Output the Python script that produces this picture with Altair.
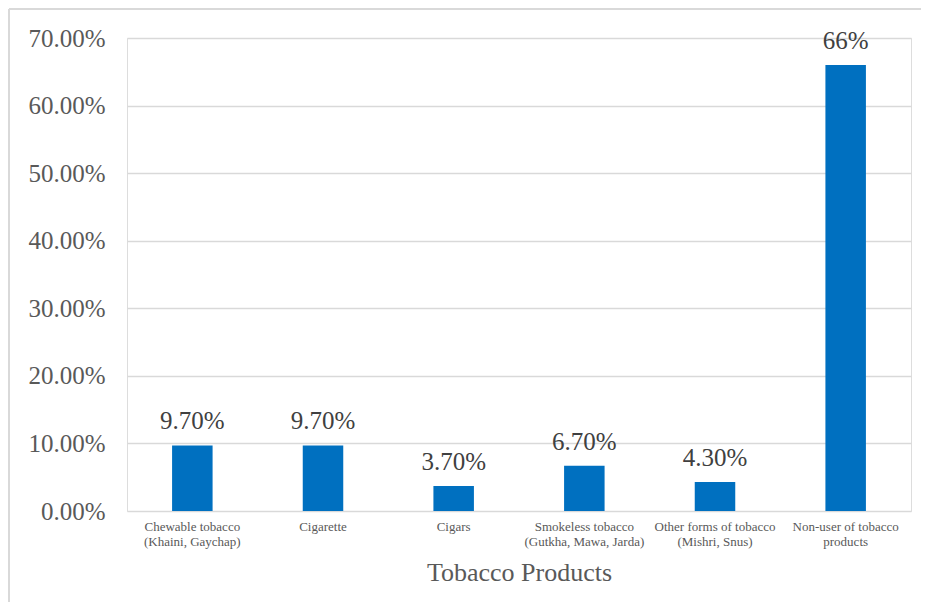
import altair as alt
import pandas as pd

categories = [
    "Chewable tobacco\n(Khaini, Gaychap)",
    "Cigarette",
    "Cigars",
    "Smokeless tobacco\n(Gutkha, Mawa, Jarda)",
    "Other forms of tobacco\n(Mishri, Snus)",
    "Non-user of tobacco\nproducts",
]
values = [0.097, 0.097, 0.037, 0.067, 0.043, 0.66]
labels = ["9.70%", "9.70%", "3.70%", "6.70%", "4.30%", "66%"]

df = pd.DataFrame({"cat": categories, "val": values, "lab": labels})

FONT = "Liberation Serif"

x = alt.X(
    "cat:N",
    sort=categories,
    title="Tobacco Products",
    scale=alt.Scale(paddingInner=0.69, paddingOuter=0.345),
    axis=alt.Axis(
        labelAngle=0,
        labelExpr="split(datum.label, '\\n')",
        labelFont=FONT,
        labelFontSize=13,
        labelLineHeight=15,
        labelColor="#595959",
        labelPadding=9,
        ticks=False,
        domain=False,
        titleFont=FONT,
        titleFontSize=26,
        titleFontWeight="normal",
        titleColor="#595959",
        titlePadding=11,
    ),
)
y = alt.Y(
    "val:Q",
    title=None,
    scale=alt.Scale(domain=[0, 0.7]),
    axis=alt.Axis(
        values=[0, 0.1, 0.2, 0.3, 0.4, 0.5, 0.6, 0.7],
        format=".2%",
        labelFont=FONT,
        labelFontSize=25,
        labelColor="#595959",
        labelPadding=22,
        ticks=False,
        domain=False,
        gridColor="#D9D9D9",
        gridWidth=1.5,
    ),
)

bars = alt.Chart(df).mark_bar(color="#0070C0").encode(x=x, y=y)
text = alt.Chart(df).mark_text(
    font=FONT, fontSize=25, color="#404040", baseline="alphabetic", dy=-16
).encode(x=alt.X("cat:N", sort=categories), y="val:Q", text="lab:N")

border_left = alt.Chart(df).mark_rule(color="#D9D9D9", strokeWidth=1.5).encode(
    x=alt.value(-118), y=alt.value(-29), y2=alt.value(620)
)
border_top = alt.Chart(df).mark_rule(color="#D9D9D9", strokeWidth=1.5).encode(
    x=alt.value(-118), x2=alt.value(820), y=alt.value(-29)
)

chart = (
    alt.layer(bars, text, border_left, border_top)
    .properties(
        width=784,
        height=473,
        autosize=alt.AutoSizeParams(type="none"),
        padding={"left": 119, "top": 30, "right": 10, "bottom": 91},
    )
    .configure_view(stroke=None)
    .configure(background="white")
)

chart.save("out.html", embed_options={"renderer": "svg", "actions": False})
